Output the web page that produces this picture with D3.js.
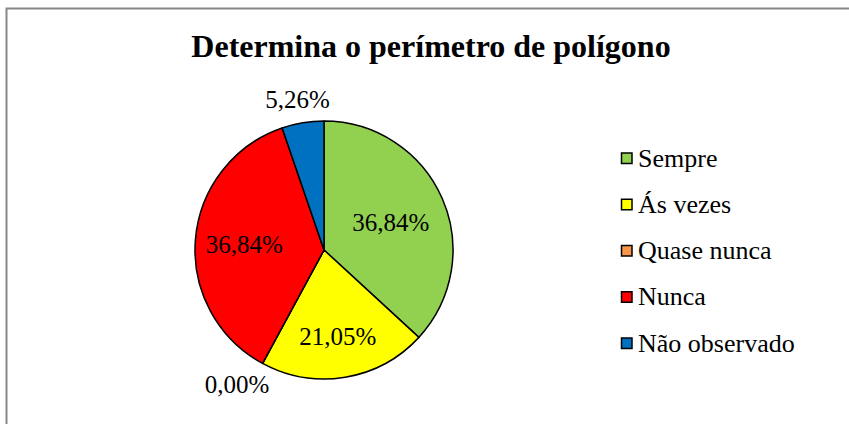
<!DOCTYPE html>
<html><head><meta charset="utf-8">
<script src="https://cdn.jsdelivr.net/npm/d3@7"></script>
<style>body{margin:0;background:#fff}svg{display:block}</style>
</head><body>
<script>
const categories = ["Sempre", "Ás vezes", "Quase nunca", "Nunca", "Não observado"];
const values = [36.84, 21.05, 0.00, 36.84, 5.26];
const labels = ["36,84%", "21,05%", "0,00%", "36,84%", "5,26%"];
const colors = ["#92D050", "#FFFF00", "#F79646", "#FF0000", "#0070C0"];
const title = "Determina o perímetro de polígono";

const W = 849, H = 424;
const cx = 324, cy = 250, R = 129;
const FONT = "Liberation Serif, Times New Roman, serif";
// label layout: radius factor and angle shift (degrees)
const labelR = [0.56, 0.68, 1.24, 0.62, 1.18];
const labelShift = [1.5, 0.5, 4.5, -1, -0.5];

const svg = d3.select("body").append("svg").attr("width", W).attr("height", H);
svg.append("rect").attr("width", W).attr("height", H).attr("fill", "#fff");
svg.append("path").attr("d", `M6.5,${H+2} V8.5 H${W+2}`).attr("fill", "none").attr("stroke", "#878787").attr("stroke-width", 2);

svg.append("text").attr("x", 431).attr("y", 57).attr("text-anchor", "middle")
  .attr("font-family", FONT).attr("font-weight", "bold")
  .attr("font-size", 32).attr("fill", "#000").text(title);

const data = categories.map((c, i) => ({c, v: values[i], i}));
const pie = d3.pie().value(d => d.v).sort(null);
const arcs = pie(data);
const arc = d3.arc().innerRadius(0).outerRadius(R);
const g = svg.append("g").attr("transform", `translate(${cx},${cy})`);
g.selectAll("path.slice").data(arcs).enter().append("path")
  .attr("d", arc).attr("fill", d => colors[d.data.i])
  .attr("stroke", "#000").attr("stroke-width", 1.5).attr("stroke-linejoin", "round");

g.selectAll("text.lbl").data(arcs).enter().append("text")
  .attr("transform", d => {
    const a = (d.startAngle + d.endAngle) / 2 + labelShift[d.data.i] * Math.PI / 180;
    const r = R * labelR[d.data.i];
    return `translate(${r * Math.sin(a)},${-r * Math.cos(a)})`;
  })
  .attr("text-anchor", "middle").attr("dy", "0.33em")
  .attr("font-family", FONT)
  .attr("font-size", 25).attr("fill", "#000")
  .text(d => labels[d.data.i]);

const leg = svg.append("g").attr("transform", "translate(621,0)");
const ly = d3.scalePoint().domain(categories).range([158, 343]);
categories.forEach((c, i) => {
  const y = ly(c);
  leg.append("rect").attr("x", 0.5).attr("y", y - 5).attr("width", 10.5).attr("height", 10.5)
    .attr("fill", colors[i]).attr("stroke", "#000").attr("stroke-width", 1.5);
  leg.append("text").attr("x", 17).attr("y", y).attr("dy", "0.33em")
    .attr("font-family", FONT)
    .attr("font-size", 26).attr("fill", "#000").text(c);
});
</script>
</body></html>
